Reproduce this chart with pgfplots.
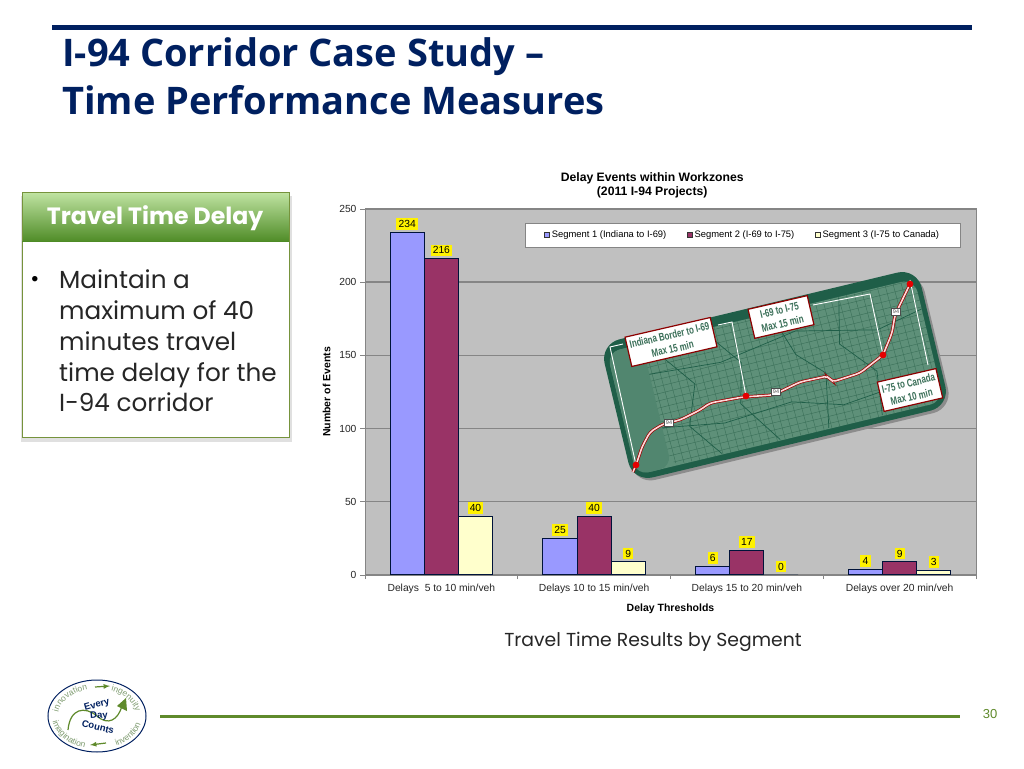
\documentclass[border=0pt]{standalone}
\usepackage{fontspec}
\usepackage{pgfplots}
\pgfplotsset{compat=1.18}
\usetikzlibrary{decorations.text}
\setmainfont{Liberation Sans}
\newfontfamily\titlefont{Open Sans}
\newfontfamily\bodyfont{Poppins}
\newfontfamily\mapfont[FakeStretch=0.72]{Liberation Sans}

\definecolor{navy}{HTML}{002060}
\definecolor{barA}{HTML}{9999FF}
\definecolor{barB}{HTML}{993366}
\definecolor{barC}{HTML}{FFFFCC}
\definecolor{plotbg}{HTML}{C0C0C0}
\definecolor{gridc}{HTML}{858585}
\definecolor{slidegreen}{HTML}{5F8A2B}
\definecolor{headtop}{HTML}{BEE2A0}
\definecolor{headbot}{HTML}{4E8B26}
\definecolor{boxline}{HTML}{76933C}
\definecolor{mapdark}{HTML}{1F5E48}
\definecolor{mapmid}{HTML}{5E9079}
\definecolor{mapline}{HTML}{3A6F58}
\definecolor{sage}{HTML}{7F9C70}

\newcommand{\shield}[1]{\node[fill=white,draw=black!70,line width=.4pt,inner sep=1.5pt,text=black!70,font=\fontsize{5.5}{6}\selectfont] at (#1) {94};}

\begin{document}
\begin{tikzpicture}
\path[use as bounding box,fill=white] (0,0) rectangle (1024pt,768pt);

\begin{axis}[
    at={(365pt,193pt)},anchor=south west,
    scale only axis,width=611pt,height=366pt,
    ybar=0pt,bar width=34.1pt,
    xmin=-0.5,xmax=3.5,ymin=0,ymax=250,
    xtick={0,1,2,3},
    xticklabels={Delays\ \ 5 to 10 min/veh,Delays 10 to 15 min/veh,Delays 15 to 20 min/veh,Delays over 20 min/veh},
    minor xtick={-0.5,0.5,1.5,2.5,3.5},
    ytick={0,50,100,150,200,250},
    xtick pos=bottom,ytick pos=left,tick align=outside,
    major tick length=5pt,minor tick length=4pt,
    tick style={draw=gridc,line width=.8pt},
    major x tick style={draw=none},
    /pgf/number format/assume math mode=true,
    tick label style={font=\fontsize{10.3}{12}\selectfont,text=black!85},
    xticklabel style={yshift=-1pt},
    axis line style={draw=gridc,line width=1pt},
    axis background/.style={fill=plotbg},
    ymajorgrids,grid style={draw=gridc,line width=1.4pt},
    title={\textbf{Delay Events within Workzones}\\\textbf{(2011 I-94 Projects)}},
    title style={align=center,font=\fontsize{12.2}{14}\selectfont,at={(axis description cs:0.470,1)},anchor=south,yshift=1pt},
    xlabel={\textbf{Delay Thresholds}},
    xlabel style={font=\fontsize{10.5}{12}\selectfont,at={(axis description cs:0.5,0)},anchor=north,yshift=-25pt},
    ylabel={\textbf{Number of Events}},
    ylabel style={font=\fontsize{10.5}{12}\selectfont,at={(axis description cs:0,0.5)},anchor=south,yshift=31pt},
    nodes near coords,
    every node near coord/.append style={fill=yellow,draw=none,text=black,inner sep=2.2pt,font=\fontsize{10.3}{12}\selectfont,yshift=2pt},
    legend columns=3,legend cell align=left,
    legend style={at={(0.2619,0.962)},anchor=north west,draw=gridc,fill=white,font=\fontsize{9.4}{11}\selectfont,inner xsep=19pt,inner ysep=6pt,
      /tikz/every even column/.style={column sep=18.5pt}},
    legend image code/.code={\draw[#1,draw=black!80,line width=.7pt] (0pt,-2.5pt) rectangle (5pt,2.5pt);},
]
\addplot[fill=barA,draw=black!40!navy,line width=1pt] coordinates {(0,234) (1,25) (2,6) (3,4)};
\addplot[fill=barB,draw=black!40!navy,line width=1pt] coordinates {(0,216) (1,40) (2,17) (3,9)};
\addplot[fill=barC,draw=black!40!navy,line width=1pt] coordinates {(0,40) (1,9) (2,0) (3,3)};
\legend{Segment 1 (Indiana to I-69),Segment 2 (I-69 to I-75),Segment 3 (I-75 to Canada)}
\end{axis}

% everything below is typed in reference pixels, origin top left
\begin{scope}[yshift=768pt,x=1pt,y=-1pt]
  % slide frame
  \fill[navy] (52,25) rectangle (972,30);
  \node[anchor=base west,inner sep=0,text=navy,font=\titlefont\bfseries\fontsize{38}{40}\selectfont] at (62,67) {I-94 Corridor Case Study –};
  \node[anchor=base west,inner sep=0,text=navy,font=\titlefont\bfseries\fontsize{38}{40}\selectfont] at (62,115) {Time Performance Measures};

  % green box
  \fill[black!12] (21,196) rectangle (292,442);
  \fill[white] (22,193) rectangle (289,438);
  \shade[top color=headtop,bottom color=headbot] (22,193) rectangle (289,242);
  \draw[boxline,line width=1pt] (22,193) rectangle (289,438);
  \draw[headbot,line width=1pt] (22,242) -- (289,242);
  \node[text=white,font=\bodyfont\bfseries\fontsize{23.6}{26}\selectfont] at (155,218) {Travel Time Delay};
  \node[font=\bodyfont\fontsize{22}{24}\selectfont] at (35,281) {\textbullet};
  \foreach \yy/\lbl in {289/Maintain a,320/maximum of 40,351/minutes travel,382/time delay for the,412/I-94 corridor}
    \node[anchor=base west,inner sep=0,text=black!85,font=\bodyfont\fontsize{24.7}{26}\selectfont] at (59,\yy) {\lbl};

  % map inset
  \begin{scope}[shift={(775,375)},rotate=13.5]
    \fill[black!45,rounded corners=20pt] (-161,-66) rectangle (165,74);
    \fill[mapdark,rounded corners=20pt] (-163,-71) rectangle (163,71);
    \fill[mapmid,rounded corners=14pt] (-158,-61) rectangle (158,65);
    \fill[mapmid!80!mapdark,rounded corners=12pt] (-158,-61) rectangle (-122,65);
    \begin{scope}
      \clip[rounded corners=12pt] (-122,-61) rectangle (158,65);
      \foreach \xx in {-120,-112,...,156} \draw[mapline,line width=.4pt] (\xx,-61) -- (\xx+3,65);
      \foreach \yy in {-58,-51,...,64} \draw[mapline,line width=.4pt] (-122,\yy) -- (158,\yy-2);
      \draw[mapdark,line width=.7pt] (-110,-50) -- (-80,-10) -- (-95,30) -- (-70,64);
      \draw[mapdark,line width=.7pt] (-60,-60) -- (-30,-20) -- (-40,20) -- (-10,64);
      \draw[mapdark,line width=.7pt] (10,-60) -- (25,-15) -- (50,10) -- (40,64);
      \draw[mapdark,line width=.7pt] (80,-60) -- (70,-15) -- (100,20) -- (95,64);
      \draw[mapdark,line width=.7pt] (-122,25) -- (-60,35) -- (10,30) -- (60,45) -- (158,35);
      \draw[mapdark,line width=.7pt] (-122,-30) -- (-50,-25) -- (30,-38) -- (110,-20) -- (158,-30);
    \end{scope}
  \end{scope}
  % white segment boundaries
  \draw[white,line width=.9pt] (636,465) -- (610,347) -- (623,344);
  \draw[white,line width=.9pt] (718,325) -- (732,322) -- (746,396);
  \draw[white,line width=.9pt] (813,305) -- (870,294) -- (883,355);
  \draw[white,line width=.9pt] (910,280) -- (928,365);
  % route
  \draw[red!60!black,line width=3pt,rounded corners=4pt]
    (633,472) -- (636,465) -- (642,447) -- (650,432) -- (663,424) -- (680,420) -- (700,410) -- (710,403) -- (743,397) -- (773,395) -- (800,382) -- (828,376) -- (832,382) -- (860,373) -- (883,355) -- (892,333) -- (895,315) -- (910,284);
  \draw[red!15!white,line width=1.6pt,rounded corners=4pt]
    (633,472) -- (636,465) -- (642,447) -- (650,432) -- (663,424) -- (680,420) -- (700,410) -- (710,403) -- (743,397) -- (773,395) -- (800,382) -- (828,376) -- (832,382) -- (860,373) -- (883,355) -- (892,333) -- (895,315) -- (910,284);
  \foreach \p in {(636,465),(746,396),(883,355),(910,284)} \fill[red!90!black] \p circle (3.4);
  \shield{669,423} \shield{776,392} \shield{896,312}
  \node[rotate=13,fill=white,draw=red!55!black,line width=1.2pt,align=center,text=mapline,inner xsep=3pt,inner ysep=4pt,font=\mapfont\bfseries\fontsize{11}{14}\selectfont] at (671,342) {Indiana Border to I-69\\Max 15 min};
  \node[rotate=13,fill=white,draw=red!55!black,line width=1.2pt,align=center,text=mapline,inner xsep=9pt,inner ysep=4pt,font=\mapfont\bfseries\fontsize{11}{14}\selectfont] at (781,317) {I-69 to I-75\\Max 15 min};
  \node[rotate=13,fill=white,draw=red!55!black,line width=1.2pt,align=center,text=mapline,inner xsep=3pt,inner ysep=4pt,font=\mapfont\bfseries\fontsize{11}{14}\selectfont] at (910,390) {I-75 to Canada\\Max 10 min};

  % footer
  \node[text=black!85,font=\bodyfont\fontsize{18.8}{22}\selectfont] at (653,642) {Travel Time Results by Segment};
  \fill[slidegreen] (160,715) rectangle (960,718);
  \node[text=slidegreen,font=\fontsize{13}{15}\selectfont] at (990,714) {30};

  % logo, middle part
  \draw[slidegreen,line width=1.2pt] (68,730) .. controls (70,708) and (85,706) .. (97,716) .. controls (108,726) and (118,720) .. (122,706);
  \fill[slidegreen] (126,698) -- (117,706) -- (127,711) -- cycle;
  \draw[slidegreen,line width=1.2pt,-latex] (95,687) -- (110,686);
  \draw[slidegreen,line width=1.2pt,latex-] (90,745) -- (106,743);
  \node[rotate=16,text=navy,font=\bfseries\fontsize{9.5}{11}\selectfont] at (97,705) {Every};
  \node[rotate=4,text=navy,font=\bfseries\fontsize{9.5}{11}\selectfont] at (99,716) {Day};
  \node[rotate=-14,text=navy,font=\bfseries\fontsize{9.5}{11}\selectfont] at (98,727) {Counts};
\end{scope}

% logo ring
\begin{scope}[shift={(97pt,52pt)}]
  \draw[navy,line width=1pt] (0,0) ellipse [x radius=49pt,y radius=36pt];
  \path[decorate,decoration={text along path,text align=center,text={|\fontsize{8.5}{9}\selectfont\color{sage}|innovation}}]
    (185:39pt and 27pt) arc [start angle=185,end angle=95,x radius=39pt,y radius=27pt];
  \path[decorate,decoration={text along path,text align=center,text={|\fontsize{8.5}{9}\selectfont\color{sage}|ingenuity}}]
    (75:39pt and 27pt) arc [start angle=75,end angle=0,x radius=39pt,y radius=27pt];
  \path[decorate,decoration={text along path,text align=center,text={|\fontsize{8.5}{9}\selectfont\color{sage}|imagination}}]
    (175:45pt and 33pt) arc [start angle=175,end angle=265,x radius=45pt,y radius=33pt];
  \path[decorate,decoration={text along path,text align=center,text={|\fontsize{8.5}{9}\selectfont\color{sage}|invention}}]
    (285:45pt and 33pt) arc [start angle=285,end angle=360,x radius=45pt,y radius=33pt];
\end{scope}
\end{tikzpicture}
\end{document}
